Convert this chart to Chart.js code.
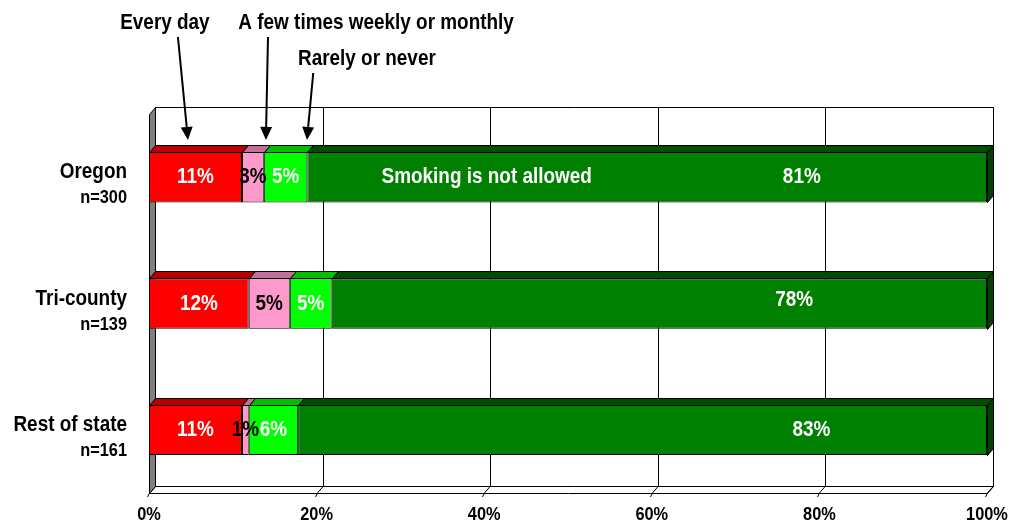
<!DOCTYPE html>
<html><head><meta charset="utf-8">
<script src="https://cdn.jsdelivr.net/npm/chart.js@4"></script>
<style>html,body{margin:0;padding:0;background:#fff}</style>
</head><body>
<canvas id="c" width="1010" height="525"></canvas>
<script>
// ---- data ----
const categories = [['Oregon', 'n=300'], ['Tri-county', 'n=139'], ['Rest of state', 'n=161']];
const seriesNames = ['Every day', 'A few times weekly or monthly', 'Rarely or never', 'Smoking is not allowed'];
const everyDay   = [11.1, 11.9, 11.1];
const fewTimes   = [2.6, 4.9, 0.8];
const rarely     = [5.2, 5.0, 5.9];
const notAllowed = [81.1, 78.2, 82.2];
const everyDayLabels   = ['11%', '12%', '11%'];
const fewTimesLabels   = ['3%', '5%', '1%'];
const rarelyLabels     = ['5%', '5%', '6%'];
const notAllowedLabels = ['81%', '78%', '83%'];
const xTicks = [0, 20, 40, 60, 80, 100];

// ---- styles / layout ----
const FONT = "'Liberation Sans', Arial, sans-serif";
const NARROW = 0.86;            // horizontal squeeze to imitate Arial Narrow
const frontColors = ['#FF0000', '#FF99CC', '#00FF00', '#008000'];
const topColors   = ['#B80000', '#C0709A', '#00C000', '#004C00'];
const sideColor   = '#004000';
const labelColors = ['#FFFFFF', '#000000', '#FFFFFF', '#FFFFFF'];
const DX = 6, DY = 7;
// label anchor (axis %) for the last series, extra vertical shift, and in-bar title anchor
const lastLabelAt = [77.9, 77.0, 79.05];
const lastLabelDy = [0, -4, 0];
const titleInBarAt = 40.3;
// top annotations: text centre (axis %), baseline px; arrow start (axis %, px) and tip (axis %)
const annotations = [
  { text: seriesNames[0], tx: 1.9,  ty: 29, sx: 3.45, sy: 37, ex: 4.65 },
  { text: seriesNames[1], tx: 27.1, ty: 29, sx: 14.2, sy: 37, ex: 13.95 },
  { text: seriesNames[2], tx: 26.0, ty: 65, sx: 19.6, sy: 73, ex: 18.85 }
];

function ntext(ctx, text, x, y, size, align, color) {
  ctx.save();
  ctx.translate(x, y);
  ctx.scale(NARROW, 1);
  ctx.font = 'bold ' + size + 'px ' + FONT;
  ctx.textAlign = align;
  ctx.textBaseline = 'alphabetic';
  ctx.fillStyle = color || '#000';
  ctx.fillText(text, 0, 0);
  ctx.restore();
}
function poly(ctx, pts, fill, stroke) {
  ctx.beginPath();
  ctx.moveTo(pts[0][0], pts[0][1]);
  for (let i = 1; i < pts.length; i++) ctx.lineTo(pts[i][0], pts[i][1]);
  ctx.closePath();
  if (fill) { ctx.fillStyle = fill; ctx.fill(); }
  if (stroke) { ctx.strokeStyle = stroke; ctx.lineWidth = 1; ctx.stroke(); }
}
function line(ctx, x1, y1, x2, y2, w) {
  ctx.beginPath(); ctx.moveTo(x1, y1); ctx.lineTo(x2, y2);
  ctx.lineWidth = w || 1; ctx.strokeStyle = '#000'; ctx.stroke();
}

const threeD = {
  id: 'threeD',
  beforeDatasetsDraw(chart) {
    const { ctx, chartArea: { left, right, top, bottom }, scales: { x } } = chart;
    ctx.save();
    // back wall
    poly(ctx, [[left + DX + .5, top - DY + .5], [right + DX + .5, top - DY + .5],
               [right + DX + .5, bottom - DY + .5], [left + DX + .5, bottom - DY + .5]], '#fff', '#000');
    xTicks.forEach(v => {
      const px = Math.round(x.getPixelForValue(v)) + DX + .5;
      line(ctx, px, top - DY, px, bottom - DY);
    });
    // floor
    poly(ctx, [[left + .5, bottom + .5], [right + .5, bottom + .5],
               [right + DX + .5, bottom - DY + .5], [left + DX + .5, bottom - DY + .5]], '#fff', '#000');
    xTicks.forEach(v => {
      const px = Math.round(x.getPixelForValue(v)) + .5;
      line(ctx, px, bottom, px + DX, bottom - DY);
      line(ctx, px, bottom, px - 2, bottom + 4);
    });
    // left side wall
    poly(ctx, [[left + .5, top + .5], [left + DX + .5, top - DY + .5],
               [left + DX + .5, bottom - DY + .5], [left + .5, bottom + .5]], '#808080', '#000');
    ctx.restore();
  },
  afterDatasetsDraw(chart) {
    const { ctx, scales: { x } } = chart;
    ctx.save();
    const n = chart.data.datasets.length;
    for (let i = 0; i < n; i++) {
      const meta = chart.getDatasetMeta(i);
      meta.data.forEach(bar => {
        const p = bar.getProps(['x', 'y', 'base', 'height'], true);
        const x0 = Math.round(p.base) + .5, x1 = Math.round(p.x) + .5;
        const t = Math.round(p.y - p.height / 2) + .5, b = Math.round(p.y + p.height / 2) + .5;
        poly(ctx, [[x0, t], [x1, t], [x1 + DX, t - DY], [x0 + DX, t - DY]], topColors[i], '#000');
        if (i === n - 1) {
          poly(ctx, [[x1, t], [x1 + DX, t - DY], [x1 + DX, b - DY], [x1, b]], sideColor, '#000');
        }
      });
    }
    // value labels
    for (let i = 0; i < n; i++) {
      const meta = chart.getDatasetMeta(i);
      const labels = chart.data.datasets[i].valueLabels;
      meta.data.forEach((bar, j) => {
        const p = bar.getProps(['x', 'y', 'base'], true);
        let cx = (p.x + p.base) / 2, dy = 0;
        if (i === n - 1) { cx = x.getPixelForValue(lastLabelAt[j]); dy = lastLabelDy[j]; }
        ntext(ctx, labels[j], cx, p.y + 6 + dy, 22, 'center', labelColors[i]);
      });
    }
    const firstBar = chart.getDatasetMeta(n - 1).data[0];
    ntext(ctx, seriesNames[n - 1], x.getPixelForValue(titleInBarAt), firstBar.y + 6, 22, 'center', '#fff');
    ctx.restore();
  },
  afterDraw(chart) {
    const { ctx, chartArea: { left, bottom }, scales: { x, y } } = chart;
    // category labels (two lines)
    chart.data.labels.forEach((lab, j) => {
      const cy = y.getPixelForValue(j);
      ntext(ctx, lab[0], left - 22, cy + 1, 22, 'right');
      ntext(ctx, lab[1], left - 22, cy + 26, 19, 'right');
    });
    // x tick labels
    xTicks.forEach(v => ntext(ctx, v + '%', x.getPixelForValue(v), bottom + 27, 19, 'center'));
    // annotations with arrows
    const firstBar = chart.getDatasetMeta(0).data[0];
    const tipY = firstBar.y - firstBar.height / 2 - 12;
    ctx.save();
    annotations.forEach(a => {
      ntext(ctx, a.text, x.getPixelForValue(a.tx), a.ty, 22, 'center');
      const sx = x.getPixelForValue(a.sx), ex = x.getPixelForValue(a.ex);
      const ang = Math.atan2(tipY - a.sy, ex - sx);
      const hl = 13, hw = 6;
      const bx = ex - hl * Math.cos(ang), by = tipY - hl * Math.sin(ang);
      line(ctx, sx, a.sy, bx, by, 2);
      poly(ctx, [[ex, tipY],
                 [bx + hw * Math.sin(ang), by - hw * Math.cos(ang)],
                 [bx - hw * Math.sin(ang), by + hw * Math.cos(ang)]], '#000', null);
    });
    ctx.restore();
  }
};

const seriesValues = [everyDay, fewTimes, rarely, notAllowed];
const seriesLabels = [everyDayLabels, fewTimesLabels, rarelyLabels, notAllowedLabels];

new Chart(document.getElementById('c'), {
  type: 'bar',
  data: {
    labels: categories,
    datasets: seriesValues.map((vals, i) => ({
      label: seriesNames[i],
      data: vals,
      valueLabels: seriesLabels[i],
      backgroundColor: frontColors[i],
      borderColor: '#000',
      borderWidth: 1,
      borderSkipped: false,
      barPercentage: 0.4,
      categoryPercentage: 1.0
    }))
  },
  options: {
    indexAxis: 'y',
    responsive: false,
    animation: false,
    layout: { padding: { left: 149, top: 114, right: 23, bottom: 32 } },
    plugins: { legend: { display: false }, tooltip: { enabled: false } },
    scales: {
      x: { stacked: true, min: 0, max: 100, display: false },
      y: { stacked: true, display: false }
    }
  },
  plugins: [threeD]
});
</script>
</body></html>
